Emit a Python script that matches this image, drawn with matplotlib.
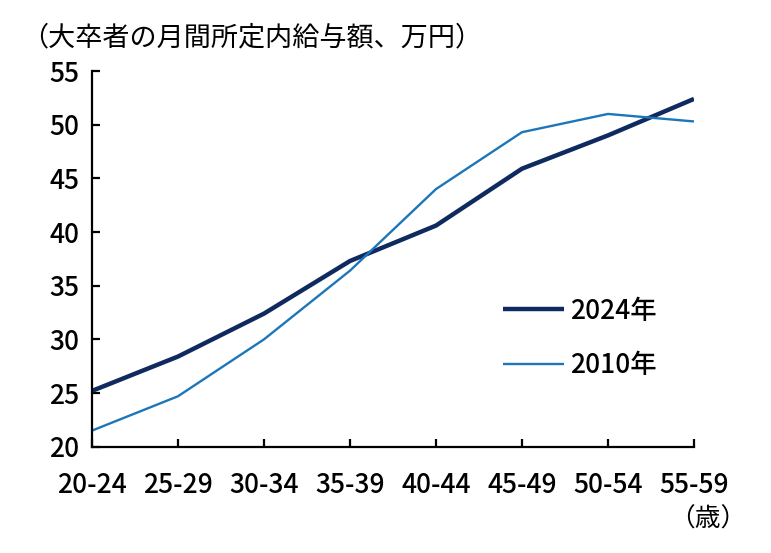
import matplotlib
matplotlib.use("Agg")
import matplotlib.pyplot as plt

plt.rcParams["font.family"] = ["Noto Sans CJK JP", "DejaVu Sans"]

# 年齢階級と大卒者の月間所定内給与額（万円）
age_groups = ["20-24", "25-29", "30-34", "35-39", "40-44", "45-49", "50-54", "55-59"]
wage_2024 = [25.2, 28.4, 32.4, 37.3, 40.6, 45.9, 49.0, 52.4]
wage_2010 = [21.5, 24.7, 30.0, 36.4, 44.0, 49.3, 51.0, 50.3]
y_ticks = [20, 25, 30, 35, 40, 45, 50, 55]

fig = plt.figure(figsize=(7.71, 5.53), dpi=100)
ax = fig.add_axes([0.1193, 0.1922, 0.7808, 0.6794])

x = list(range(len(age_groups)))
ax.plot(x, wage_2024, color="#0f2a5e", lw=3.2, label="2024年", solid_capstyle="butt")
ax.plot(x, wage_2010, color="#1c76b8", lw=1.7, label="2010年", solid_capstyle="butt")

ax.set_xlim(0, len(age_groups) - 1)
ax.set_ylim(20, 55)
ax.set_xticks(x)
ax.set_xticklabels(age_groups)
ax.set_yticks(y_ticks)

for s in ["top", "right"]:
    ax.spines[s].set_visible(False)
for s in ["left", "bottom"]:
    ax.spines[s].set_linewidth(1.6)
    ax.spines[s].set_color("black")

ax.tick_params(axis="both", direction="in", length=6, width=1.6, labelsize=19)
ax.tick_params(axis="y", pad=9)
ax.tick_params(axis="x", pad=18)
for lab in ax.get_xticklabels() + ax.get_yticklabels():
    lab.set_fontweight("medium")

leg = ax.legend(loc="center left", bbox_to_anchor=(0.683, 0.288), frameon=False,
                fontsize=19, handlelength=2.3, handletextpad=0.25, labelspacing=1.05,
                borderpad=0, borderaxespad=0)
for t in leg.get_texts():
    t.set_fontweight("medium")

fig.text(0.028, 0.931, "（大卒者の月間所定内給与額、万円）", fontsize=19.5, va="center", ha="left")
fig.text(0.968, 0.06, "（歳）", fontsize=18.5, va="center", ha="right")

plt.savefig("out.png", dpi=100)
plt.close()
